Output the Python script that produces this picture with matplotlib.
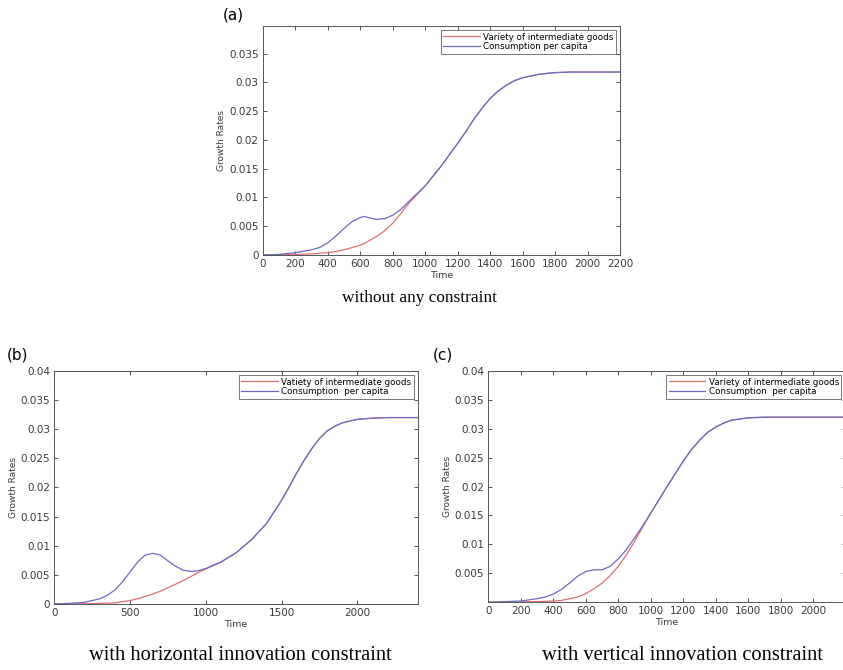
import matplotlib
matplotlib.use("Agg")
import matplotlib.pyplot as plt

plt.rcParams["font.family"] = ["DejaVu Sans"]

RED = "#e07070"
BLUE = "#6a6ac8"
AXCOL = "#555555"

# ---- (a) without any constraint ----
t_a = [0, 100, 200, 300, 350, 400, 450, 500, 550, 600, 625, 650, 700, 750, 800, 850, 900,
       1000, 1100, 1200, 1250, 1300, 1350, 1400, 1450, 1500, 1550, 1600, 1700, 1800, 1900,
       2000, 2100, 2200]
var_a = [0, 0.00005, 0.0001, 0.0002, 0.0003, 0.0004, 0.0006, 0.0009, 0.0013, 0.0017, 0.0020,
         0.0024, 0.0032, 0.0042, 0.0055, 0.0072, 0.0090, 0.0120, 0.0155, 0.0194, 0.0214,
         0.0236, 0.0255, 0.0272, 0.0285, 0.0295, 0.0303, 0.0308, 0.0314, 0.0317, 0.0318,
         0.0318, 0.0318, 0.0318]
con_a = [0, 0.0001, 0.0004, 0.0009, 0.0013, 0.0021, 0.0033, 0.0046, 0.0058, 0.0065, 0.0067,
         0.0065, 0.0062, 0.0063, 0.0069, 0.0079, 0.0093, 0.0120, 0.0155, 0.0194, 0.0214,
         0.0236, 0.0255, 0.0272, 0.0285, 0.0295, 0.0303, 0.0308, 0.0314, 0.0317, 0.0318,
         0.0318, 0.0318, 0.0318]

# ---- (b) with horizontal innovation constraint ----
t_b = [0, 100, 200, 300, 350, 400, 450, 500, 550, 600, 650, 700, 750, 800, 850, 900, 950,
       1000, 1050, 1100, 1200, 1300, 1400, 1500, 1550, 1600, 1650, 1700, 1750, 1800, 1850,
       1900, 2000, 2100, 2200, 2300, 2400]
var_b = [0, 0, 0.00005, 0.0001, 0.00015, 0.0002, 0.0004, 0.0006, 0.0009, 0.0013, 0.0017,
         0.0022, 0.0028, 0.0034, 0.0040, 0.0047, 0.0054, 0.0060, 0.0066, 0.0072, 0.0088,
         0.0110, 0.0138, 0.0178, 0.0201, 0.0225, 0.0247, 0.0267, 0.0284, 0.0297, 0.0305,
         0.0311, 0.0317, 0.0319, 0.0320, 0.0320, 0.0320]
con_b = [0, 0.0001, 0.0003, 0.0009, 0.0015, 0.0024, 0.0038, 0.0055, 0.0072, 0.0084, 0.0087,
         0.0084, 0.0074, 0.0065, 0.0058, 0.0056, 0.0057, 0.0061, 0.0067, 0.0072, 0.0088,
         0.0110, 0.0138, 0.0178, 0.0201, 0.0225, 0.0247, 0.0267, 0.0284, 0.0297, 0.0305,
         0.0311, 0.0317, 0.0319, 0.0320, 0.0320, 0.0320]

# ---- (c) with vertical innovation constraint ----
t_c = [0, 100, 200, 300, 350, 400, 450, 500, 550, 600, 650, 700, 750, 800, 850, 900, 950,
       1000, 1050, 1100, 1150, 1200, 1250, 1300, 1350, 1400, 1450, 1500, 1600, 1700, 1800,
       1900, 2000, 2100, 2200]
var_c = [0, 0, 0.00005, 0.0001, 0.00015, 0.0002, 0.0003, 0.0006, 0.0009, 0.0015, 0.0023,
         0.0033, 0.0046, 0.0062, 0.0082, 0.0105, 0.0130, 0.0154, 0.0177, 0.0200, 0.0222,
         0.0244, 0.0264, 0.0280, 0.0294, 0.0303, 0.0310, 0.0315, 0.0319, 0.0320, 0.0320,
         0.0320, 0.0320, 0.0320, 0.0320]
con_c = [0, 0.0001, 0.0002, 0.0006, 0.0009, 0.0014, 0.0022, 0.0033, 0.0045, 0.0053, 0.0056,
         0.0056, 0.0062, 0.0075, 0.0091, 0.0111, 0.0132, 0.0154, 0.0177, 0.0200, 0.0222,
         0.0244, 0.0264, 0.0280, 0.0294, 0.0303, 0.0310, 0.0315, 0.0319, 0.0320, 0.0320,
         0.0320, 0.0320, 0.0320, 0.0320]

labels_a = ["Variety of intermediate goods", "Consumption per capita"]
labels_b = ["Vatiety of intermediate goods", "Consumption  per capita"]
labels_c = ["Variety of intermediate goods", "Consumption  per capita"]


def panel(ax, t, var, con, labels, xlim, ylim, xticks, yticks, yticklabels):
    ax.plot(t, var, color=RED, lw=0.9, label=labels[0])
    ax.plot(t, con, color=BLUE, lw=0.9, label=labels[1])
    ax.set_xlim(*xlim)
    ax.set_ylim(*ylim)
    ax.set_xticks(xticks)
    ax.set_xticklabels([str(v) for v in xticks])
    ax.set_yticks(yticks)
    ax.set_yticklabels(yticklabels)
    ax.tick_params(direction="in", top=True, right=True, labelsize=7.5,
                   length=3, width=0.6, colors="#3a3a3a", pad=3)
    for s in ax.spines.values():
        s.set_color(AXCOL)
        s.set_linewidth(0.7)
    ax.set_xlabel("Time", fontsize=6.8, color="#3a3a3a", labelpad=1)
    ax.set_ylabel("Growth Rates", fontsize=6.5, color="#3a3a3a", labelpad=2)
    leg = ax.legend(loc="upper right", fontsize=6.3, frameon=True, fancybox=False,
                    borderpad=0.25, labelspacing=0.1, handlelength=4.2,
                    handletextpad=0.4, borderaxespad=0.5)
    leg.get_frame().set_edgecolor("#555555")
    leg.get_frame().set_linewidth(0.7)


fig = plt.figure(figsize=(8.43, 6.70), dpi=100)

ax_a = fig.add_axes([0.3116, 0.6194, 0.4239, 0.3418])
yt_a = [0, 0.005, 0.01, 0.015, 0.02, 0.025, 0.03, 0.035]
panel(ax_a, t_a, var_a, con_a, labels_a, (0, 2200), (0, 0.0398),
      list(range(0, 2201, 200)), yt_a, ["0", "0.005", "0.01", "0.015", "0.02", "0.025", "0.03", "0.035"])

ax_b = fig.add_axes([0.0644, 0.0985, 0.4314, 0.3478])
yt_b = [0, 0.005, 0.01, 0.015, 0.02, 0.025, 0.03, 0.035, 0.04]
panel(ax_b, t_b, var_b, con_b, labels_b, (0, 2400), (0, 0.04),
      [0, 500, 1000, 1500, 2000], yt_b,
      ["0", "0.005", "0.01", "0.015", "0.02", "0.025", "0.03", "0.035", "0.04"])

ax_c = fig.add_axes([0.5792, 0.1012, 0.4241, 0.3451])
yt_c = [0.005, 0.01, 0.015, 0.02, 0.025, 0.03, 0.035, 0.04]
panel(ax_c, t_c, var_c, con_c, labels_c, (0, 2200), (0, 0.04),
      list(range(0, 2001, 200)), yt_c,
      ["0.005", "0.01", "0.015", "0.02", "0.025", "0.03", "0.035", "0.04"])

fig.text(233 / 843, 1 - 15 / 670, "(a)", fontsize=11, ha="center", va="center")
fig.text(17 / 843, 1 - 355 / 670, "(b)", fontsize=11, ha="center", va="center")
fig.text(443 / 843, 1 - 355 / 670, "(c)", fontsize=11, ha="center", va="center")

serif = ["Liberation Serif", "DejaVu Serif"]
fig.text(420 / 843, 1 - 298 / 670, "without any constraint", fontsize=12.4,
         family=serif, ha="center", va="center")
fig.text(240 / 843, 1 - 655 / 670, "with horizontal innovation constraint", fontsize=14.8,
         family=serif, ha="center", va="center")
fig.text(682 / 843, 1 - 656 / 670, "with vertical innovation constraint", fontsize=14.8,
         family=serif, ha="center", va="center")

fig.savefig("out.png", dpi=100)
